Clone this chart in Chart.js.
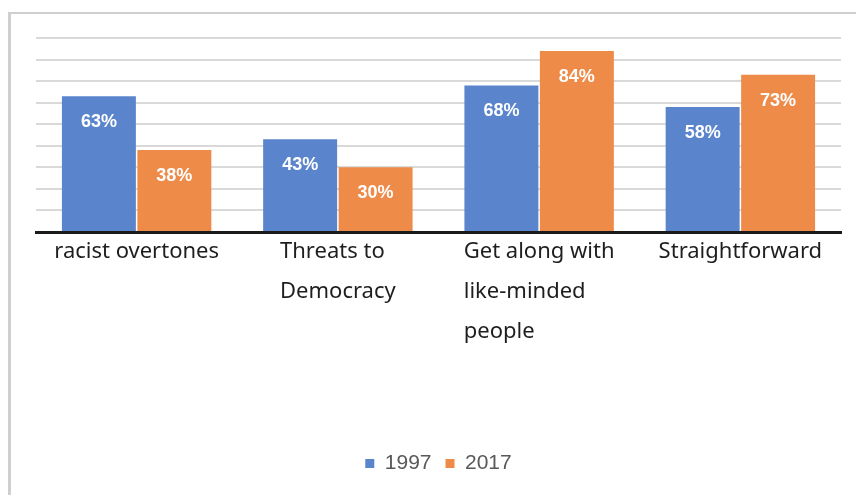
<!DOCTYPE html>
<html>
<head>
<meta charset="utf-8">
<script src="https://cdn.jsdelivr.net/npm/chart.js@4"></script>
<style>
  html, body { margin: 0; padding: 0; background: #fff; }
  #wrap { position: relative; width: 856px; height: 495px; overflow: hidden; }
  #frame {
    position: absolute; left: 8px; top: 12px; width: 900px; height: 600px;
    border-left: 3px solid #cfcfcf; border-top: 2px solid #cfcfcf; pointer-events: none;
  }
  canvas { position: absolute; left: 0; top: 0; }
</style>
</head>
<body>
<div id="wrap">
  <canvas id="chart" width="856" height="495"></canvas>
  <div id="frame"></div>
</div>
<script>
  // categories (multi-line, as wrapped in the original)
  const categories = [
    ['racist overtones'],
    ['Threats to', 'Democracy'],
    ['Get along with', 'like-minded', 'people'],
    ['Straightforward'],
  ];
  const values1997 = [63, 43, 68, 58];
  const values2017 = [38, 30, 84, 73];
  const seriesNames = ['1997', '2017'];

  const BLUE = '#5a84cc';
  const ORANGE = '#ee8b49';

  // white percent labels inside the top of each bar
  const barLabels = {
    id: 'barLabels',
    afterDatasetsDraw(chart) {
      const ctx = chart.ctx;
      ctx.save();
      ctx.fillStyle = '#ffffff';
      ctx.font = 'bold 18px "Liberation Sans", Arial, sans-serif';
      ctx.textAlign = 'center';
      ctx.textBaseline = 'middle';
      chart.data.datasets.forEach((ds, i) => {
        chart.getDatasetMeta(i).data.forEach((bar, j) => {
          ctx.fillText(ds.data[j] + '%', bar.x, bar.y + 26);
        });
      });
      ctx.restore();
    },
  };

  // category labels: block centred on the category, lines left-aligned
  const catLabels = {
    id: 'catLabels',
    afterDraw(chart) {
      const ctx = chart.ctx;
      const xs = chart.scales.x;
      const top = chart.chartArea.bottom;
      ctx.save();
      ctx.fillStyle = '#1e1e1e';
      ctx.font = '22px "Noto Sans", sans-serif';
      ctx.textAlign = 'left';
      ctx.textBaseline = 'middle';
      categories.forEach((lines, i) => {
        const w = Math.max(...lines.map((l) => ctx.measureText(l).width));
        const left = xs.getPixelForValue(i) - w / 2;
        lines.forEach((l, k) => ctx.fillText(l, left, top + 20 + k * 40));
      });
      ctx.restore();
    },
  };

  new Chart(document.getElementById('chart'), {
    type: 'bar',
    data: {
      labels: categories.map((c) => c.join(' ')),
      datasets: [
        { label: seriesNames[0], data: values1997, backgroundColor: BLUE },
        { label: seriesNames[1], data: values2017, backgroundColor: ORANGE },
      ],
    },
    options: {
      responsive: false,
      animation: false,
      layout: { padding: { left: 36, right: 15, top: 38, bottom: 11 } },
      datasets: { bar: { categoryPercentage: 0.75, barPercentage: 0.98 } },
      plugins: {
        legend: {
          position: 'bottom',
          labels: {
            boxWidth: 9, boxHeight: 9, padding: 14,
            color: '#595959',
            font: { family: '"Liberation Sans", Arial, sans-serif', size: 21 },
          },
        },
        tooltip: { enabled: false },
      },
      scales: {
        x: {
          grid: { display: false, drawTicks: false },
          border: { display: true, color: '#1a1a1a', width: 3 },
          ticks: { display: false },
          afterFit: (s) => { s.height = 207; },
        },
        y: {
          min: 0, max: 90,
          ticks: { display: false, stepSize: 10 },
          grid: { color: '#d9d9d9', lineWidth: 2, drawTicks: false },
          border: { display: false },
          afterFit: (s) => { s.width = 0; },
        },
      },
    },
    plugins: [barLabels, catLabels],
  });
</script>
</body>
</html>
